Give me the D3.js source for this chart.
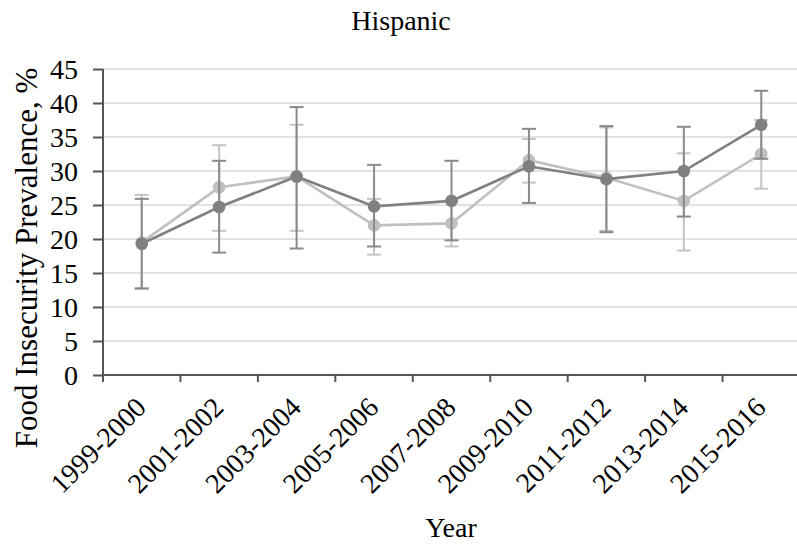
<!DOCTYPE html>
<html>
<head>
<meta charset="utf-8">
<script src="https://cdn.jsdelivr.net/npm/d3@7"></script>
<style>
  body { margin: 0; background: #fff; }
  svg { display: block; }
  text { font-family: "Liberation Serif", "Times New Roman", serif; fill: #000; }
</style>
</head>
<body>
<svg id="chart" width="797" height="547"></svg>
<script>
// ---- data ----
const categories = ["1999-2000", "2001-2002", "2003-2004", "2005-2006", "2007-2008",
                    "2009-2010", "2011-2012", "2013-2014", "2015-2016"];
const darkValues = [19.3, 24.7, 29.2, 24.8, 25.6, 30.7, 28.8, 30.0, 36.8];
const darkLow    = [12.7, 18.0, 18.6, 18.9, 19.8, 25.3, 21.0, 23.3, 31.8];
const darkHigh   = [25.9, 31.5, 39.4, 30.9, 31.5, 36.2, 36.6, 36.5, 41.8];
const lightValues = [19.5, 27.6, 29.2, 22.0, 22.3, 31.6, 29.0, 25.6, 32.5];
const lightLow    = [12.8, 21.2, 21.2, 17.7, 18.9, 28.3, 21.2, 18.3, 27.4];
const lightHigh   = [26.5, 33.8, 36.8, 25.9, 25.5, 34.7, 36.4, 32.6, 37.5];
const yTicks = [0, 5, 10, 15, 20, 25, 30, 35, 40, 45];
const chartTitle = "Hispanic";
const xLabel = "Year";
const yLabel = "Food Insecurity Prevalence, %";

// ---- layout ----
const svg = d3.select("#chart");
const mLeft = 103, mRight = 800, mTop = 69, mBottom = 375;
const x = d3.scaleBand().domain(categories).range([mLeft, mRight]).padding(0);
const y = d3.scaleLinear().domain([0, 45]).range([mBottom, mTop]);
const cx = d => x(d) + x.bandwidth() / 2;

// gridlines
svg.append("g").selectAll("line").data(yTicks.filter(t => t > 0)).join("line")
  .attr("x1", mLeft).attr("x2", 797)
  .attr("y1", d => y(d)).attr("y2", d => y(d))
  .attr("stroke", "#d9d9d9").attr("stroke-width", 1.6);

// series
const series = [
  { vals: lightValues, lo: lightLow, hi: lightHigh, color: "#c0c0c0", bar: "#c4c4c4" },
  { vals: darkValues,  lo: darkLow,  hi: darkHigh,  color: "#808080", bar: "#8a8a8a" }
];

series.forEach(s => {
  const g = svg.append("g");
  const rows = categories.map((c, i) => ({ c, v: s.vals[i], lo: s.lo[i], hi: s.hi[i] }));
  g.selectAll("line.eb").data(rows).join("line").attr("class", "eb")
    .attr("x1", d => cx(d.c)).attr("x2", d => cx(d.c))
    .attr("y1", d => y(d.lo)).attr("y2", d => y(d.hi))
    .attr("stroke", s.bar).attr("stroke-width", 2);
  g.selectAll("line.caphi").data(rows).join("line").attr("class", "caphi")
    .attr("x1", d => cx(d.c) - 7).attr("x2", d => cx(d.c) + 7)
    .attr("y1", d => y(d.hi)).attr("y2", d => y(d.hi))
    .attr("stroke", s.bar).attr("stroke-width", 2);
  g.selectAll("line.caplo").data(rows).join("line").attr("class", "caplo")
    .attr("x1", d => cx(d.c) - 7).attr("x2", d => cx(d.c) + 7)
    .attr("y1", d => y(d.lo)).attr("y2", d => y(d.lo))
    .attr("stroke", s.bar).attr("stroke-width", 2);
  g.append("path").datum(rows)
    .attr("d", d3.line().x(d => cx(d.c)).y(d => y(d.v)))
    .attr("fill", "none").attr("stroke", s.color).attr("stroke-width", 2.6);
  g.selectAll("circle").data(rows).join("circle")
    .attr("cx", d => cx(d.c)).attr("cy", d => y(d.v)).attr("r", 6.3)
    .attr("fill", s.color);
});

// y axis
const yAxis = svg.append("g").attr("transform", `translate(${mLeft},0)`)
  .call(d3.axisLeft(y).tickValues(yTicks).tickSize(10).tickPadding(15).tickFormat(d3.format("d")));
yAxis.select(".domain").attr("stroke", "#555").attr("stroke-width", 2).attr("d", `M0,${mTop}V${mBottom}`);
yAxis.selectAll(".tick line").attr("stroke", "#555").attr("stroke-width", 2);
yAxis.selectAll(".tick text").attr("font-size", 28).attr("font-family", "Liberation Serif").attr("fill", "#000").attr("dy", "0.34em");

// x axis
const xAxis = svg.append("g").attr("transform", `translate(0,${mBottom})`);
xAxis.append("line").attr("x1", mLeft).attr("x2", 797).attr("y1", 0).attr("y2", 0)
  .attr("stroke", "#555").attr("stroke-width", 2);
xAxis.selectAll("line.tk").data(categories).join("line").attr("class", "tk")
  .attr("x1", d => x(d)).attr("x2", d => x(d)).attr("y1", 0).attr("y2", 7)
  .attr("stroke", "#555").attr("stroke-width", 2);
xAxis.selectAll("text.lbl").data(categories).join("text").attr("class", "lbl")
  .attr("transform", d => `translate(${cx(d) + 6},34) rotate(-45)`)
  .attr("text-anchor", "end").attr("font-size", 28)
  .text(d => d);

// titles
svg.append("text").attr("x", 401).attr("y", 30).attr("text-anchor", "middle")
  .attr("font-size", 28).text(chartTitle);
svg.append("text").attr("x", 451).attr("y", 537).attr("text-anchor", "middle")
  .attr("font-size", 28).text(xLabel);
svg.append("text").attr("transform", "translate(37,258) rotate(-90)")
  .attr("text-anchor", "middle").attr("font-size", 31).text(yLabel);
</script>
</body>
</html>
